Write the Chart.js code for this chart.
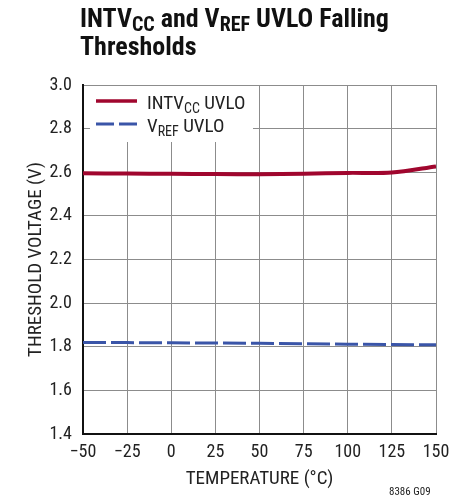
<!DOCTYPE html>
<html lang="en">
<head>
<meta charset="UTF-8" />
<title>INTVcc and VREF UVLO Falling Thresholds</title>
<script src="https://cdn.jsdelivr.net/npm/chart.js"></script>
<style>
  html, body { margin: 0; padding: 0; background: #fff; }
  #wrap { position: relative; width: 466px; height: 502px; }
  #title {
    position: absolute; left: 80px; top: 4px;
    font-family: 'Roboto Condensed', sans-serif;
    font-weight: bold; font-size: 26px; line-height: 28px; color: #111;
  }
  #title sub { font-size: 20px; vertical-align: -4px; line-height: 0; }
  #note {
    position: absolute; left: 389px; top: 485px;
    font-family: 'Roboto Condensed', sans-serif; font-size: 11px; color: #222;
  }
</style>
</head>
<body>
<div id="wrap">
  <canvas id="chart" width="466" height="502"></canvas>
  <div id="title">INTV<sub>CC</sub> and V<sub>REF</sub> UVLO Falling<br>Thresholds</div>
  <div id="note">8386 G09</div>
</div>
<script>
const temps = [-50, -25, 0, 25, 50, 75, 100, 125, 150];
const intvccUvlo = [2.595, 2.594, 2.593, 2.592, 2.591, 2.593, 2.597, 2.599, 2.627];
const vrefUvlo = [1.820, 1.819, 1.818, 1.817, 1.816, 1.814, 1.812, 1.810, 1.809];

const FONT = "'Roboto Condensed', sans-serif";
const RED = '#a0062e';
const BLUE = '#3a55a8';

const toPts = (ys) => temps.map((t, i) => ({ x: t, y: ys[i] }));

// legend with subscripts, drawn over the grid
const subLegend = {
  id: 'subLegend',
  afterDatasetsDraw(chart) {
    const ctx = chart.ctx;
    const a = chart.chartArea;
    ctx.save();
    ctx.fillStyle = '#fff';
    ctx.fillRect(a.left + 7, a.top + 1, 163, 56);
    const items = [
      { parts: [['INTV', 0], ['CC', 1], [' UVLO', 0]], color: RED, width: 3.5, dash: [], y: a.top + 16 },
      { parts: [['V', 0], ['REF', 1], [' UVLO', 0]], color: BLUE, width: 3, dash: [18, 5], y: a.top + 39 }
    ];
    items.forEach(it => {
      ctx.strokeStyle = it.color;
      ctx.lineWidth = it.width;
      ctx.setLineDash(it.dash);
      ctx.beginPath();
      ctx.moveTo(a.left + 13, it.y);
      ctx.lineTo(a.left + 54, it.y);
      ctx.stroke();
      ctx.setLineDash([]);
      let x = a.left + 64;
      ctx.fillStyle = '#222';
      ctx.textBaseline = 'alphabetic';
      it.parts.forEach(([txt, sub]) => {
        ctx.font = (sub ? '14px ' : '19px ') + FONT;
        ctx.fillText(txt, x, it.y + (sub ? 12 : 8));
        x += ctx.measureText(txt).width;
      });
    });
    ctx.restore();
  }
};

new Chart(document.getElementById('chart'), {
  type: 'line',
  data: {
    datasets: [
      {
        label: 'INTVCC UVLO',
        data: toPts(intvccUvlo),
        borderColor: RED,
        borderWidth: 4,
        pointRadius: 0,
        tension: 0.3
      },
      {
        label: 'VREF UVLO',
        data: toPts(vrefUvlo),
        borderColor: BLUE,
        borderWidth: 3,
        borderDash: [23, 5],
        pointRadius: 0,
        tension: 0
      }
    ]
  },
  options: {
    responsive: false,
    animation: false,
    events: [],
    layout: { padding: { top: 85, right: 30, left: 0, bottom: 0 } },
    plugins: { legend: { display: false }, tooltip: { enabled: false } },
    scales: {
      x: {
        type: 'linear',
        min: -50, max: 150,
        afterFit: s => { s.height = 68; },
        ticks: {
          stepSize: 25, color: '#222', padding: 8,
          font: { family: FONT, size: 18 },
          callback: v => String(v).replace('-', '\u2212')
        },
        grid: { color: '#8c8c8c', lineWidth: 1, drawTicks: false },
        border: { color: '#111', width: 2 },
        title: {
          display: true, text: 'TEMPERATURE (°C)', color: '#222',
          font: { family: FONT, size: 19 }, padding: { top: 0, bottom: 11 }
        }
      },
      y: {
        min: 1.4, max: 3.0,
        afterFit: s => { s.width = 83; },
        ticks: {
          stepSize: 0.2, color: '#222', padding: 11,
          font: { family: FONT, size: 18 },
          callback: v => v.toFixed(1)
        },
        grid: { color: '#8c8c8c', lineWidth: 1, drawTicks: false },
        border: { color: '#111', width: 2 },
        title: {
          display: true, text: 'THRESHOLD VOLTAGE (V)', color: '#222',
          font: { family: FONT, size: 19 }, padding: { top: 25, bottom: 0 }
        }
      }
    }
  },
  plugins: [subLegend]
});
</script>
</body>
</html>
